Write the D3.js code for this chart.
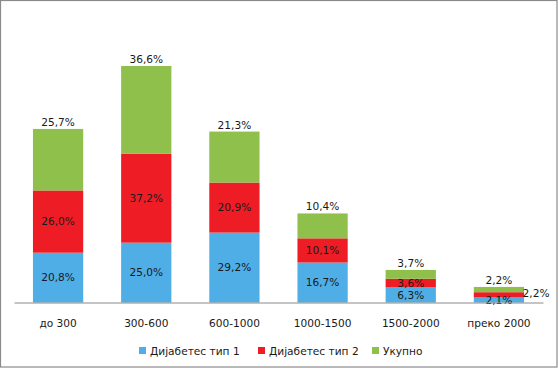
<!DOCTYPE html>
<html><head><meta charset="utf-8">
<script src="https://cdn.jsdelivr.net/npm/d3@7"></script>
<style>
html,body{margin:0;padding:0;background:#fff;}
svg{display:block;font-family:"DejaVu Sans",Verdana,sans-serif;}
</style></head>
<body>
<script>
const categories = ["до 300","300-600","600-1000","1000-1500","1500-2000","преко 2000"];
const seriesNames = ["Дијабетес тип 1","Дијабетес тип 2","Укупно"];
const type1 = [20.8,25.0,29.2,16.7,6.3,2.1];
const type2 = [26.0,37.2,20.9,10.1,3.6,2.2];
const total = [25.7,36.6,21.3,10.4,3.7,2.2];
const colors = ["#4FAEE6","#EE1D25","#8FC04B"];

const W=558,H=369,FS="10.6px";
const svg=d3.select("body").append("svg").attr("width",W).attr("height",H);
svg.append("rect").attr("x",0.5).attr("y",0.5).attr("width",W-1.5).attr("height",H-2.5)
  .attr("fill","#fff").attr("stroke","#8a8a8a").attr("stroke-width",1.2);

const rows=categories.map((c,i)=>({cat:c,s0:type1[i],s1:type2[i],s2:total[i]}));
const stack=d3.stack().keys(["s0","s1","s2"])(rows);

const x=d3.scaleBand().domain(categories).range([14,543]).paddingInner(0.43).paddingOuter(0.215);
const y=d3.scaleLinear().domain([0,100]).range([302.5,63.1]);

const g=svg.append("g");
stack.forEach((layer,si)=>{
  g.selectAll(null).data(layer).enter().append("rect")
    .attr("x",d=>x(d.data.cat)).attr("width",x.bandwidth())
    .attr("y",d=>y(d[1])).attr("height",d=>y(d[0])-y(d[1]))
    .attr("fill",colors[si]);
});

// axis
const axis=d3.axisBottom(x).tickSize(0).tickPadding(0);
const ax=svg.append("g").attr("transform","translate(0,302.5)").call(axis);
ax.select(".domain").attr("stroke","#8a8a8a").attr("stroke-width",1);
ax.selectAll("text").attr("font-family","DejaVu Sans").attr("font-size",FS).attr("fill","#1a1a1a").attr("dy","0").attr("y",24);

const fmt=v=>v.toFixed(1).replace(".",",")+"%";
// labels
stack.forEach((layer,si)=>{
  g.selectAll(null).data(layer).enter().append("text")
    .attr("font-size",FS).attr("fill","#1a1a1a")
    .attr("text-anchor","middle")
    .attr("x",(d,i)=>{
      if(si===1 && i===5) return x(d.data.cat)+x.bandwidth()+12;
      return x(d.data.cat)+x.bandwidth()/2;
    })
    .attr("y",(d,i)=>{
      if(si===2) return y(d[1])-3;
      if(si===1 && i===5) return (y(d[0])+y(d[1]))/2+2.5;
      return (y(d[0])+y(d[1]))/2+3.8;
    })
    .text(d=>fmt(d[1]-d[0]));
});

// legend
const legX=[139,258,372];
seriesNames.forEach((n,i)=>{
  svg.append("rect").attr("x",legX[i]).attr("y",347).attr("width",7).attr("height",7).attr("fill",colors[i]);
  svg.append("text").attr("x",legX[i]+11).attr("y",355).attr("font-size",FS).attr("fill","#1a1a1a").text(n);
});
</script>
</body></html>
